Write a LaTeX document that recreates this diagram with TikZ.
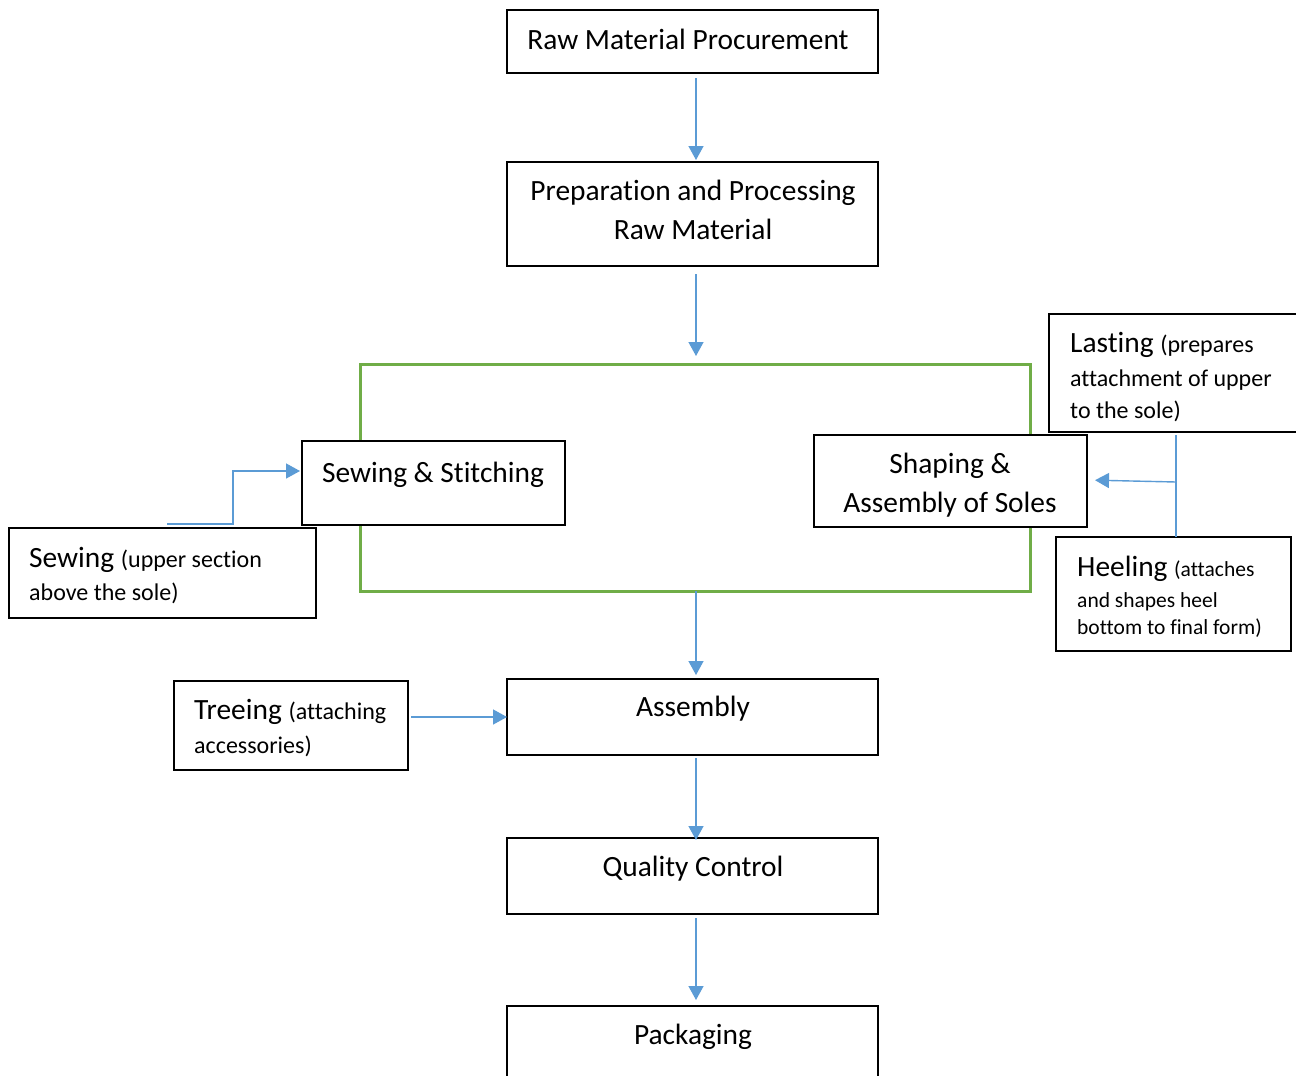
\documentclass[tikz,border=0pt]{standalone}
\usepackage{fontspec}
\setmainfont{Carlito}[Ligatures=NoCommon]
\usetikzlibrary{arrows.meta,calc}
\definecolor{flowblue}{HTML}{5B9BD5}
\definecolor{framegreen}{HTML}{70AD47}
\tikzset{
  box/.style={draw=black, fill=white, line width=1.4pt, anchor=north west,
              inner sep=0pt, outer sep=0pt},
  frame/.style={draw=framegreen, line width=3pt, anchor=north west,
              inner sep=0pt, outer sep=0pt},
  big/.style={font=\fontsize{29.4}{39}\selectfont, inner sep=0pt, anchor=base},
  bigl/.style={big, anchor=base west},
  note/.style={font=\fontsize{24}{32}\selectfont, inner sep=0pt, anchor=base west},
  notesm/.style={font=\fontsize{21.5}{27}\selectfont, inner sep=0pt, anchor=base west},
  link/.style={draw=flowblue, line width=1.4pt},
  arr/.style={link, -{Triangle[length=14pt,width=15pt]}},
}
\newcommand{\sm}[1]{{\fontsize{24}{32}\selectfont #1}}
\newcommand{\smh}[1]{{\fontsize{21.5}{27}\selectfont #1}}
\begin{document}
\begin{tikzpicture}[x=1pt,y=-1pt]
\useasboundingbox (0,0) rectangle (1296,1076);
\clip (0,0) rectangle (1296,1076);

% green frame around the parallel stage
\node[frame, minimum width=670pt, minimum height=227pt] (frame) at (360,364) {};

% process boxes
\node[box, minimum width=371pt, minimum height=63pt]  (raw)   at (507,10)   {};
\node[box, minimum width=371pt, minimum height=104pt] (prep)  at (507,162)  {};
\node[box, minimum width=263pt, minimum height=84pt]  (stitch) at (302,441) {};
\node[box, minimum width=273pt, minimum height=92pt]  (shape) at (814,435)  {};
\node[box, minimum width=252pt, minimum height=118pt] (last)  at (1049,314) {};
\node[box, minimum width=235pt, minimum height=114pt] (heel)  at (1056,537) {};
\node[box, minimum width=307pt, minimum height=90pt]  (sew)   at (9,528)    {};
\node[box, minimum width=371pt, minimum height=76pt]  (asm)   at (507,679)  {};
\node[box, minimum width=234pt, minimum height=89pt]  (tree)  at (174,681)  {};
\node[box, minimum width=371pt, minimum height=76pt]  (qc)    at (507,838)  {};
\node[box, minimum width=371pt, minimum height=100pt] (pack)  at (507,1006) {};

% box texts
\node[big] (rawtxt)   at (688,49)   {Raw Material Procurement};
\node[big] (preptxta) at (693,200)  {Preparation and Processing};
\node[big] (preptxtb) at (693,239)  {Raw Material};
\node[big] (stitchtxt) at (433,482) {Sewing \& Stitching};
\node[big] (shapetxta) at (950,473) {Shaping \&};
\node[big] (shapetxtb) at (950,512) {Assembly of Soles};
\node[bigl] (lasttxta) at (1070,352) {Lasting \sm{(prepares}};
\node[note] (lasttxtb) at (1070,386) {attachment of upper};
\node[note] (lasttxtc) at (1070,418) {to the sole)};
\node[bigl] (heeltxta) at (1077,576) {Heeling \smh{(attaches}};
\node[notesm] (heeltxtb) at (1077,607) {and shapes heel};
\node[notesm] (heeltxtc) at (1077,634) {bottom to final form)};
\node[bigl] (sewtxta) at (29,567)   {Sewing \sm{(upper section}};
\node[note] (sewtxtb) at (29,600)   {above the sole)};
\node[bigl] (treetxta) at (194,719) {Treeing \sm{(attaching}};
\node[note] (treetxtb) at (194,753) {accessories)};
\node[big] (asmtxt)  at (693,716)   {Assembly};
\node[big] (qctxt)   at (693,876)   {Quality Control};
\node[big] (packtxt) at (693,1044)  {Packaging};

% main flow
\draw[arr, shorten <=5pt, shorten >=2pt] ([xshift=3.5pt]raw.south) -- ([xshift=3.5pt]prep.north);
\draw[arr, shorten <=8pt, shorten >=8pt] ([xshift=3.5pt]prep.south) -- ([xshift=1pt]frame.north);
\draw[arr, shorten >=4pt] ([xshift=1pt]frame.south) -- ([xshift=3.5pt]asm.north);
\draw[arr, shorten <=3pt, shorten >=-2pt] ([xshift=3.5pt]asm.south) -- ([xshift=3.5pt]qc.north);
\draw[arr, shorten <=4pt, shorten >=6pt] ([xshift=3.5pt]qc.south) -- ([xshift=3.5pt]pack.north);

% side feeds
\coordinate (sewtap) at (167,524);
\draw[arr, shorten >=2pt] (sewtap) -- ++(66,0) |- ([yshift=12pt]stitch.west);
\coordinate (trunk) at (1176,482);
\draw[link] (trunk |- last.south) ++(0,3) -- (trunk |- heel.north);
\draw[arr, shorten >=8pt] (trunk) -- ([yshift=1pt]shape.east);
\draw[arr] ([xshift=3pt,yshift=8.5pt]tree.east) -- (asm.west);
\end{tikzpicture}
\end{document}
